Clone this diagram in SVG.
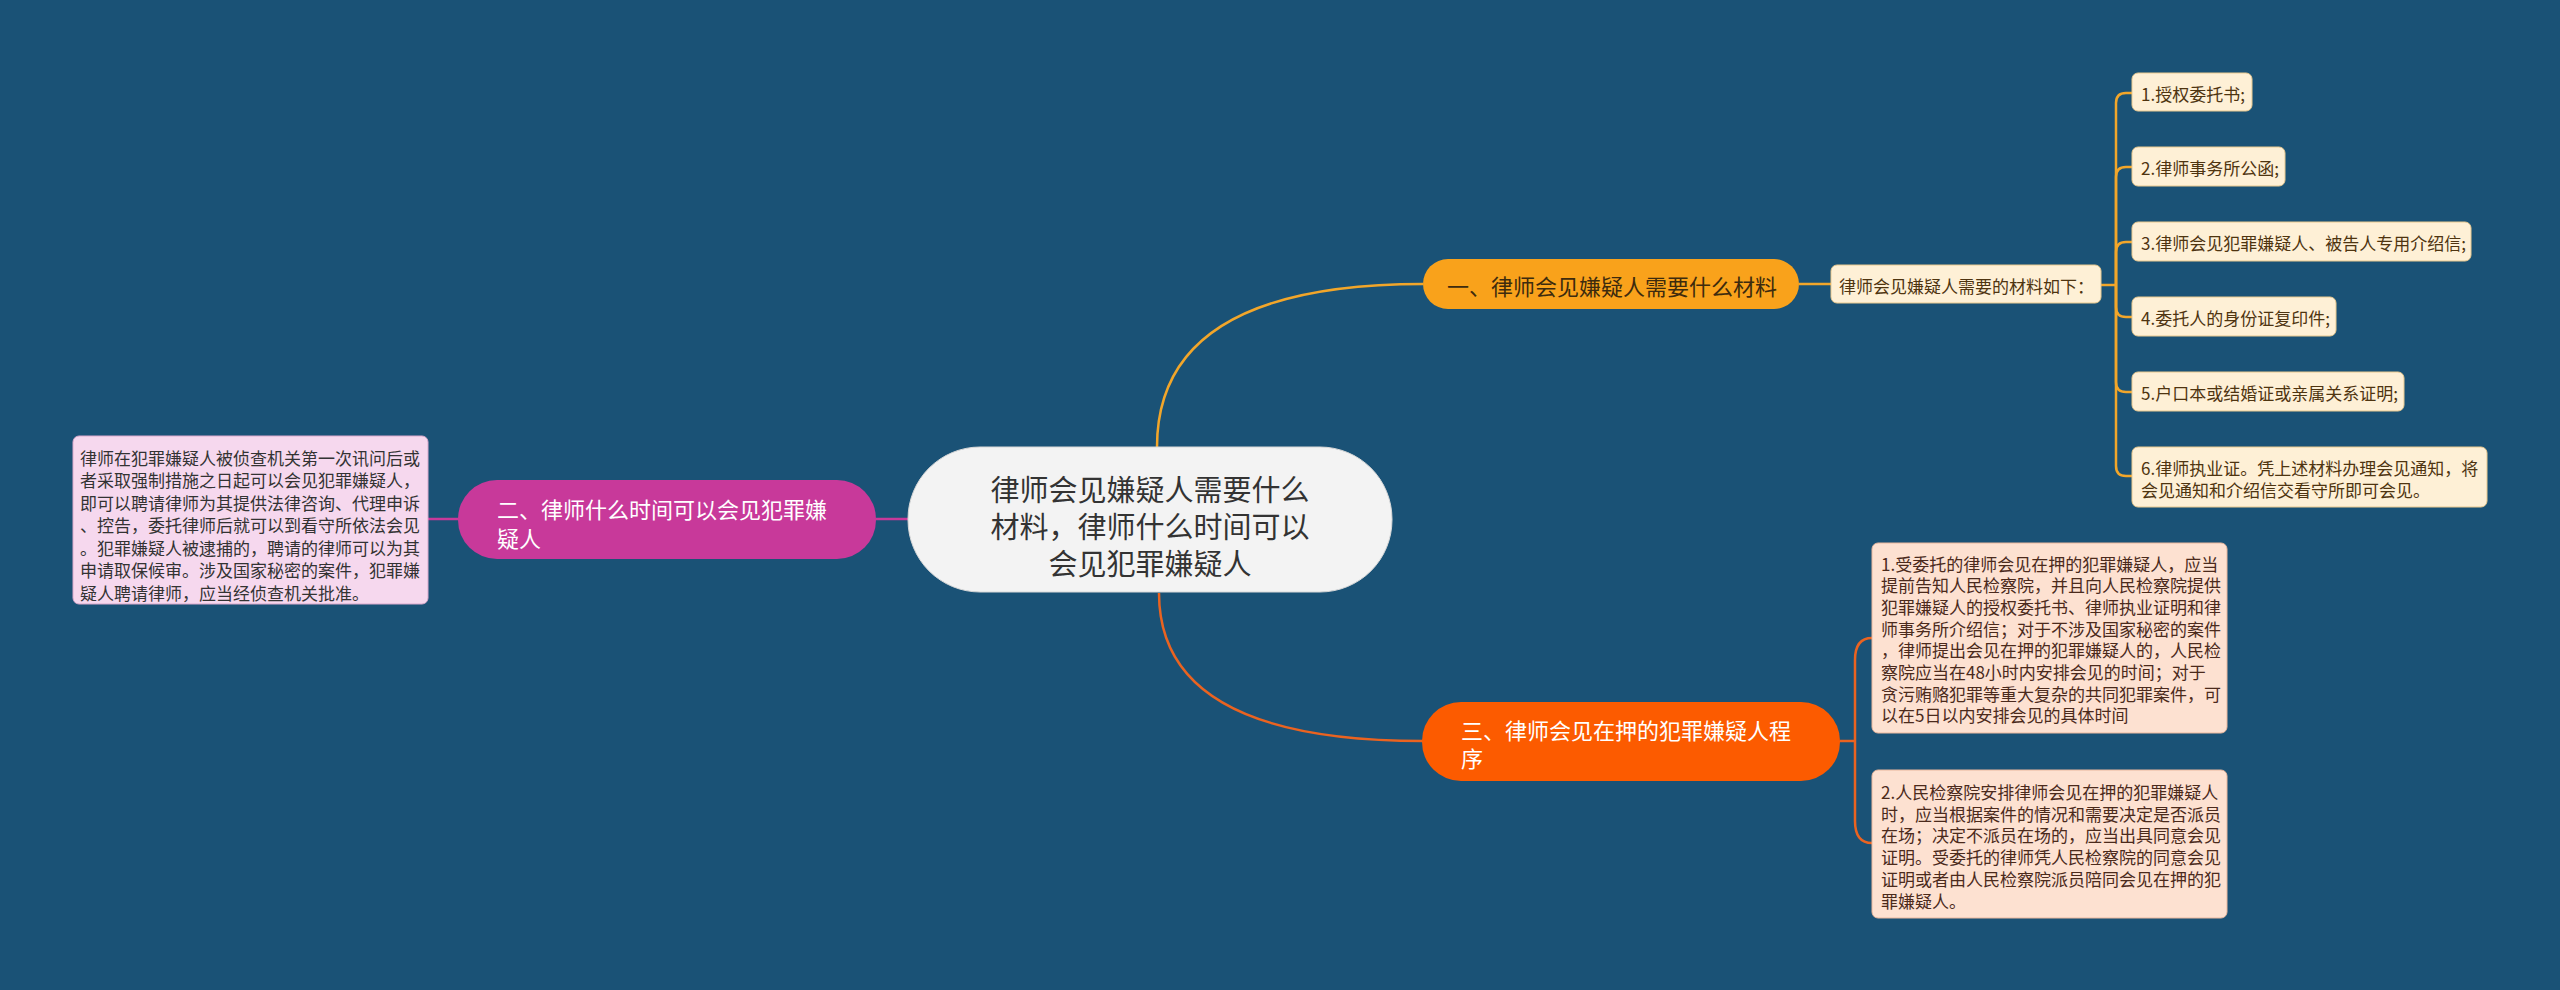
<svg xmlns="http://www.w3.org/2000/svg" width="2560" height="990" viewBox="0 0 2560 990">
<style>
text{font-family:"Noto Sans CJK SC","Noto Sans",sans-serif;dominant-baseline:central}
.c1{fill:none;stroke:#f2a62a;stroke-width:2.5}
.c2{fill:none;stroke:#c8399a;stroke-width:2.5}
.c3{fill:none;stroke:#ea6320;stroke-width:2.5}
.l1 rect{fill:#fef0d6;stroke:#e9c98f;stroke-width:1}
.l1 text{fill:#4e3410;font-size:17px}
.l2 rect{fill:#f6d8ee;stroke:#d9a9cc;stroke-width:1}
.l2 text{fill:#333;font-size:17px}
.l3 rect{fill:#fde1d1;stroke:#eab79d;stroke-width:1}
.l3 text{fill:#4b2a1c;font-size:17px}
.main text{font-size:22px}
</style>
<rect width="2560" height="990" fill="#1a5276"/>
<g id="connectors">
<path class="c1" d="M1157 447 Q1157 284 1423 284"/>
<path class="c3" d="M1159 593 Q1159 741 1423 741"/>
<path class="c2" d="M876 519 H908"/>
<path class="c2" d="M428 519 H458"/>
<path class="c1" d="M1799 284 H1831"/>
<path class="c1" d="M2101 285 H2116"/>
<path class="c1" d="M2116 285 V103 Q2116 93 2126 93 H2132"/>
<path class="c1" d="M2116 285 V177 Q2116 167 2126 167 H2132"/>
<path class="c1" d="M2116 285 V252 Q2116 242 2126 242 H2132"/>
<path class="c1" d="M2116 285 V307 Q2116 317 2126 317 H2132"/>
<path class="c1" d="M2116 285 V382 Q2116 392 2126 392 H2132"/>
<path class="c1" d="M2116 285 V466 Q2116 476 2126 476 H2132"/>
<path class="c3" d="M1840 741 H1855"/>
<path class="c3" d="M1855 741 V660 Q1855 638 1872 638"/>
<path class="c3" d="M1855 741 V821 Q1855 843 1872 843"/>
</g>
<g id="root">
<rect x="908" y="447" width="484" height="145" rx="72" fill="#f3f3f3" stroke="#d8d8d8" stroke-width="1"/>
<text x="1150" y="488" font-size="29" fill="#333" text-anchor="middle">律师会见嫌疑人需要什么</text>
<text x="1150" y="525" font-size="29" fill="#333" text-anchor="middle">材料，律师什么时间可以</text>
<text x="1150" y="562" font-size="29" fill="#333" text-anchor="middle">会见犯罪嫌疑人</text>
</g>
<g id="topic1" class="main">
<rect x="1423" y="259" width="376" height="50" rx="25" fill="#f9a21b"/>
<text x="1447" y="285" fill="#3d2b0e">一、律师会见嫌疑人需要什么材料</text>
</g>
<g id="topic2" class="main">
<rect x="458" y="480" width="418" height="79" rx="39" fill="#c8399a"/>
<text x="497" y="508" fill="#fff">二、律师什么时间可以会见犯罪嫌</text>
<text x="497" y="537" fill="#fff">疑人</text>
</g>
<g id="topic3" class="main">
<rect x="1422" y="702" width="418" height="79" rx="39" fill="#fc5b00"/>
<text x="1461" y="729" fill="#fff">三、律师会见在押的犯罪嫌疑人程</text>
<text x="1461" y="757" fill="#fff">序</text>
</g>
<g id="t1-summary" class="l1">
<rect x="1831" y="265" width="270" height="38" rx="6"/>
<text x="1839" y="285">律师会见嫌疑人需要的材料如下：</text>
</g>
<g id="t1-item1" class="l1">
<rect x="2132" y="73" width="120" height="38" rx="6"/>
<text x="2141" y="93">1.授权委托书;</text>
</g>
<g id="t1-item2" class="l1">
<rect x="2132" y="147" width="153" height="39" rx="6"/>
<text x="2141" y="167">2.律师事务所公函;</text>
</g>
<g id="t1-item3" class="l1">
<rect x="2132" y="222" width="339" height="39" rx="6"/>
<text x="2141" y="242">3.律师会见犯罪嫌疑人、被告人专用介绍信;</text>
</g>
<g id="t1-item4" class="l1">
<rect x="2132" y="297" width="204" height="39" rx="6"/>
<text x="2141" y="317">4.委托人的身份证复印件;</text>
</g>
<g id="t1-item5" class="l1">
<rect x="2132" y="372" width="272" height="39" rx="6"/>
<text x="2141" y="392">5.户口本或结婚证或亲属关系证明;</text>
</g>
<g id="t1-item6" class="l1">
<rect x="2132" y="447" width="355" height="60" rx="6"/>
<text x="2141" y="467">6.律师执业证。凭上述材料办理会见通知，将</text>
<text x="2141" y="489">会见通知和介绍信交看守所即可会见。</text>
</g>
<g id="t2-leaf" class="l2">
<rect x="73" y="436" width="355" height="168" rx="6"/>
<text x="80" y="457">律师在犯罪嫌疑人被侦查机关第一次讯问后或</text>
<text x="80" y="479.5">者采取强制措施之日起可以会见犯罪嫌疑人，</text>
<text x="80" y="502">即可以聘请律师为其提供法律咨询、代理申诉</text>
<text x="80" y="524.5">、控告，委托律师后就可以到看守所依法会见</text>
<text x="80" y="547">。犯罪嫌疑人被逮捕的，聘请的律师可以为其</text>
<text x="80" y="569.5">申请取保候审。涉及国家秘密的案件，犯罪嫌</text>
<text x="80" y="592">疑人聘请律师，应当经侦查机关批准。</text>
</g>
<g id="t3-leaf1" class="l3">
<rect x="1872" y="543" width="355" height="190" rx="6"/>
<text x="1881" y="563">1.受委托的律师会见在押的犯罪嫌疑人，应当</text>
<text x="1881" y="584.7">提前告知人民检察院，并且向人民检察院提供</text>
<text x="1881" y="606.4">犯罪嫌疑人的授权委托书、律师执业证明和律</text>
<text x="1881" y="628.1">师事务所介绍信；对于不涉及国家秘密的案件</text>
<text x="1881" y="649.8">，律师提出会见在押的犯罪嫌疑人的，人民检</text>
<text x="1881" y="671.5">察院应当在48小时内安排会见的时间；对于</text>
<text x="1881" y="693.2">贪污贿赂犯罪等重大复杂的共同犯罪案件，可</text>
<text x="1881" y="714.9">以在5日以内安排会见的具体时间</text>
</g>
<g id="t3-leaf2" class="l3">
<rect x="1872" y="770" width="355" height="148" rx="6"/>
<text x="1881" y="791.5">2.人民检察院安排律师会见在押的犯罪嫌疑人</text>
<text x="1881" y="813.2">时，应当根据案件的情况和需要决定是否派员</text>
<text x="1881" y="834.9">在场；决定不派员在场的，应当出具同意会见</text>
<text x="1881" y="856.6">证明。受委托的律师凭人民检察院的同意会见</text>
<text x="1881" y="878.3">证明或者由人民检察院派员陪同会见在押的犯</text>
<text x="1881" y="900">罪嫌疑人。</text>
</g>
</svg>
